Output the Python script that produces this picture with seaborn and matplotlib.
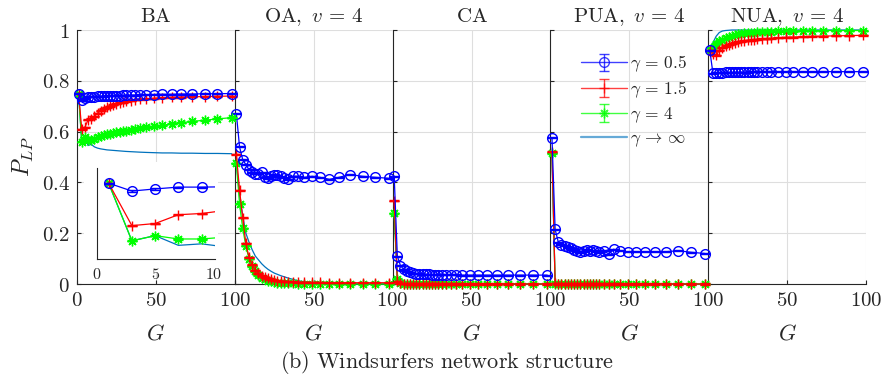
import numpy as np
import pandas as pd
import matplotlib
matplotlib.use('Agg')
import matplotlib.pyplot as plt
import seaborn as sns
from matplotlib.patches import Rectangle

# ---------------- data ----------------
G = [1, 3, 5, 7, 9, 11, 13, 15, 17, 19, 21, 23, 25, 27, 29, 31, 34, 37, 40, 44,
     49, 54, 60, 66, 73, 81, 89, 98]

titles = [r'$\mathrm{BA}$', r'$\mathrm{OA},\ v\,=\,4$', r'$\mathrm{CA}$',
          r'$\mathrm{PUA},\ v\,=\,4$', r'$\mathrm{NUA},\ v\,=\,4$']
legend_labels = [r'$\gamma\,=\,0.5$', r'$\gamma\,=\,1.5$', r'$\gamma\,=\,4$', r'$\gamma\,\rightarrow\,\infty$']
yticklabels = ['0', '0.2', '0.4', '0.6', '0.8', '1']
xticklabels = ['0', '50', '100']
inset_xticklabels = ['0', '5', '10']
caption = r'$\mathrm{(b)\ Windsurfers\ network\ structure}$'

ba_g05 = [0.750, 0.724, 0.731, 0.737, 0.737, 0.738, 0.739, 0.740, 0.740, 0.741, 0.741, 0.742, 0.742, 0.742,
          0.743, 0.743, 0.744, 0.744, 0.745, 0.745, 0.746, 0.747, 0.747, 0.748, 0.748, 0.749, 0.749, 0.750]
ba_g15 = [0.750, 0.610, 0.617, 0.646, 0.650, 0.660, 0.672, 0.683, 0.690, 0.695, 0.700, 0.705, 0.710, 0.713,
          0.716, 0.719, 0.722, 0.725, 0.727, 0.729, 0.731, 0.733, 0.735, 0.736, 0.737, 0.738, 0.739, 0.740]
ba_g4 = [0.750, 0.560, 0.577, 0.566, 0.566, 0.572, 0.578, 0.583, 0.586, 0.589, 0.592, 0.595, 0.598, 0.600,
         0.602, 0.604, 0.607, 0.610, 0.613, 0.617, 0.621, 0.625, 0.630, 0.635, 0.640, 0.645, 0.650, 0.655]
ba_inf = [0.750, 0.560, 0.577, 0.545, 0.550, 0.540, 0.535, 0.532, 0.530, 0.528, 0.527, 0.526, 0.525, 0.524,
          0.523, 0.522, 0.521, 0.520, 0.519, 0.518, 0.517, 0.516, 0.516, 0.515, 0.515, 0.514, 0.514, 0.513]

oa_g05 = [0.670, 0.540, 0.490, 0.470, 0.450, 0.440, 0.435, 0.435, 0.439, 0.420, 0.416, 0.425, 0.431, 0.428,
          0.424, 0.418, 0.412, 0.424, 0.424, 0.420, 0.424, 0.420, 0.412, 0.420, 0.431, 0.424, 0.420, 0.416]
oa_g15 = [0.510, 0.370, 0.260, 0.160, 0.105, 0.075, 0.055, 0.042, 0.033, 0.027, 0.022, 0.018, 0.015, 0.013,
          0.011, 0.010, 0.009, 0.008, 0.007, 0.007, 0.006, 0.006, 0.005, 0.005, 0.005, 0.005, 0.005, 0.005]
oa_g4 = [0.475, 0.315, 0.220, 0.150, 0.100, 0.070, 0.050, 0.035, 0.025, 0.018, 0.013, 0.010, 0.007, 0.005,
         0.004, 0.003, 0.002, 0.002, 0.001, 0.001, 0.001, 0.001, 0.001, 0.000, 0.000, 0.000, 0.000, 0.000]
oa_inf = [0.475, 0.350, 0.270, 0.200, 0.165, 0.135, 0.110, 0.095, 0.080, 0.068, 0.058, 0.050, 0.043, 0.038,
          0.033, 0.029, 0.023, 0.018, 0.013, 0.009, 0.006, 0.004, 0.003, 0.002, 0.001, 0.001, 0.001, 0.001]

ca_g05 = [0.425, 0.110, 0.072, 0.058, 0.050, 0.046, 0.043, 0.041, 0.040, 0.039, 0.038, 0.038, 0.037, 0.037,
          0.037, 0.036, 0.036, 0.036, 0.036, 0.035, 0.035, 0.035, 0.035, 0.035, 0.035, 0.035, 0.035, 0.035]
ca_g15 = [0.327, 0.010, 0.003, 0.001, 0.001, 0.000, 0.000, 0.000, 0.000, 0.000, 0.000, 0.000, 0.000, 0.000,
          0.000, 0.000, 0.000, 0.000, 0.000, 0.000, 0.000, 0.000, 0.000, 0.000, 0.000, 0.000, 0.000, 0.000]
ca_g4 = [0.278, 0.020, 0.004, 0.001, 0.000, 0.000, 0.000, 0.000, 0.000, 0.000, 0.000, 0.000, 0.000, 0.000,
         0.000, 0.000, 0.000, 0.000, 0.000, 0.000, 0.000, 0.000, 0.000, 0.000, 0.000, 0.000, 0.000, 0.000]
ca_inf = [0.278, 0.030, 0.010, 0.005, 0.003, 0.002, 0.001, 0.001, 0.000, 0.000, 0.000, 0.000, 0.000, 0.000,
          0.000, 0.000, 0.000, 0.000, 0.000, 0.000, 0.000, 0.000, 0.000, 0.000, 0.000, 0.000, 0.000, 0.000]

pua_g05 = [0.575, 0.215, 0.165, 0.155, 0.150, 0.145, 0.140, 0.135, 0.128, 0.125, 0.128, 0.135, 0.130, 0.132,
           0.128, 0.125, 0.130, 0.118, 0.137, 0.130, 0.127, 0.127, 0.127, 0.127, 0.127, 0.131, 0.125, 0.120]
pua_g15 = [0.520, 0.002, 0.000, 0.000, 0.000, 0.000, 0.000, 0.000, 0.000, 0.000, 0.000, 0.000, 0.000, 0.000,
           0.000, 0.000, 0.000, 0.000, 0.000, 0.000, 0.000, 0.000, 0.000, 0.000, 0.000, 0.000, 0.000, 0.000]
pua_g4 = [0.515, 0.000, 0.000, 0.000, 0.000, 0.000, 0.000, 0.000, 0.000, 0.000, 0.000, 0.000, 0.000, 0.000,
          0.000, 0.000, 0.000, 0.000, 0.000, 0.000, 0.000, 0.000, 0.000, 0.000, 0.000, 0.000, 0.000, 0.000]
pua_inf = [0.515, 0.000, 0.000, 0.000, 0.000, 0.000, 0.000, 0.000, 0.000, 0.000, 0.000, 0.000, 0.000, 0.000,
           0.000, 0.000, 0.000, 0.000, 0.000, 0.000, 0.000, 0.000, 0.000, 0.000, 0.000, 0.000, 0.000, 0.000]

nua_g05 = [0.920, 0.830, 0.831, 0.832, 0.832, 0.833, 0.833, 0.833, 0.834, 0.834, 0.834, 0.834, 0.834, 0.835,
           0.835, 0.835, 0.835, 0.835, 0.835, 0.835, 0.836, 0.836, 0.836, 0.836, 0.836, 0.836, 0.836, 0.836]
nua_g15 = [0.920, 0.905, 0.900, 0.920, 0.930, 0.937, 0.942, 0.946, 0.950, 0.953, 0.955, 0.957, 0.959, 0.960,
           0.962, 0.963, 0.965, 0.966, 0.967, 0.969, 0.971, 0.972, 0.974, 0.975, 0.976, 0.977, 0.978, 0.979]
nua_g4 = [0.920, 0.930, 0.945, 0.955, 0.962, 0.968, 0.973, 0.977, 0.980, 0.983, 0.985, 0.987, 0.988, 0.989,
          0.990, 0.991, 0.992, 0.993, 0.994, 0.995, 0.996, 0.996, 0.997, 0.997, 0.998, 0.998, 0.998, 0.998]
nua_inf = [0.920, 0.950, 0.975, 0.990, 0.996, 0.998, 0.999, 1.000, 1.000, 1.000, 1.000, 1.000, 1.000, 1.000,
           1.000, 1.000, 1.000, 1.000, 1.000, 1.000, 1.000, 1.000, 1.000, 1.000, 1.000, 1.000, 1.000, 1.000]

panels = [
    (ba_g05, ba_g15, ba_g4, ba_inf),
    (oa_g05, oa_g15, oa_g4, oa_inf),
    (ca_g05, ca_g15, ca_g4, ca_inf),
    (pua_g05, pua_g15, pua_g4, pua_inf),
    (nua_g05, nua_g15, nua_g4, nua_inf),
]

# ---------------- style ----------------
sns.set_style('white')
plt.rcParams['mathtext.fontset'] = 'cm'
plt.rcParams['font.family'] = ['DejaVu Serif']
plt.rcParams['axes.unicode_minus'] = False

C_BLUE, C_RED, C_GREEN, C_INF = '#0000FF', '#FF0000', '#00FF00', '#0072BD'
ASTER = (8, 2, 0)
SPINE = '#262626'
GRID = '#dedede'

W, H = 889, 381
fig = plt.figure(figsize=(W / 100, H / 100), dpi=100)


def fx(px):
    return px / W


def fy(py):
    return 1 - py / H


left0, right_end = 77, 866
pw = (right_end - left0) / 5
top_px, bot_px = 30, 284


def math(s):
    return '$' + s + '$'


def draw_series(ax, vals, small=False):
    g05, g15, g4, ginf = vals
    df = pd.DataFrame({'G': G, 'g05': g05, 'g15': g15, 'g4': g4, 'ginf': ginf})
    sns.lineplot(data=df, x='G', y='ginf', ax=ax, color=C_INF, linewidth=0.9,
                 legend=False, clip_on=small, zorder=3)
    specs = [('g4', C_GREEN, ASTER), ('g15', C_RED, '+'), ('g05', C_BLUE, 'o')]
    for col, c, mk in specs:
        sns.lineplot(data=df, x='G', y=col, ax=ax, color=c, linewidth=0.9,
                     marker=mk, markersize=7.0, markerfacecolor='none',
                     markeredgecolor=c, markeredgewidth=1.0, legend=False,
                     clip_on=small, zorder=4)
        ax.errorbar(df['G'], df[col], yerr=0.002, fmt='none', ecolor=c,
                    elinewidth=1.0, capsize=3.4, capthick=1.0,
                    clip_on=small, zorder=4)


axes = []
for k in range(5):
    ax = fig.add_axes([fx(left0 + k * pw), fy(bot_px), fx(pw), (bot_px - top_px) / H])
    axes.append(ax)
    draw_series(ax, panels[k])
    ax.set_xlim(0, 100)
    ax.set_ylim(0, 1)
    ax.set_axisbelow(True)
    ax.grid(True, color=GRID, linewidth=0.8)
    for s in ['top', 'right']:
        ax.spines[s].set_visible(False)
    for s in ['left', 'bottom']:
        ax.spines[s].set_color(SPINE)
        ax.spines[s].set_linewidth(0.8)
    ax.set_xticks([0, 50, 100])
    xl = [math(t) for t in xticklabels]
    if k > 0:
        xl[0] = ''
    ax.set_xticklabels(xl)
    ax.set_yticks([0, 0.2, 0.4, 0.6, 0.8, 1.0])
    if k == 0:
        ax.set_yticklabels([math(t) for t in yticklabels])
        ax.set_ylabel(r'$P_{LP}$', fontsize=17, labelpad=4)
    else:
        ax.set_yticklabels([])
        ax.set_ylabel('')
    ax.tick_params(direction='in', length=3, width=0.8, color=SPINE,
                   labelsize=15, pad=5, left=True, bottom=True)
    ax.set_xlabel(r'$G$', fontsize=16, labelpad=9)
    ax.set_title(titles[k], fontsize=15, pad=6)

# data of earlier panels should sit on top of later panels' backgrounds
for k, ax in enumerate(axes):
    ax.set_zorder(10 - k)
    ax.patch.set_alpha(0)

# legend in PUA panel (errorbar-style handles)
axl = axes[3]
hs = []
for c, mk in [(C_BLUE, 'o'), (C_RED, '+'), (C_GREEN, ASTER)]:
    h = axl.errorbar([np.nan], [np.nan], yerr=[0.05], color=c, marker=mk,
                     markersize=7, markerfacecolor='none', markeredgecolor=c,
                     markeredgewidth=1.0, linewidth=1.0, capsize=3.4, alpha=0.75)
    hs.append(h)
hinf, = axl.plot([np.nan], [np.nan], color=C_INF, linewidth=1.6, alpha=0.6)
hs.append(hinf)
leg = axl.legend(hs, legend_labels, loc='upper left', bbox_to_anchor=(0.12, 0.955),
                 frameon=False, fontsize=12.5, handlelength=2.6, handletextpad=0.2,
                 labelspacing=0.3, borderpad=0.2)

# inset in BA panel
fig.patches.append(Rectangle((fx(84), fy(272)), fx(218 - 84), (272 - 162) / H,
                             transform=fig.transFigure, facecolor='white',
                             edgecolor='none', zorder=20))
axi = fig.add_axes([fx(97), fy(259), fx(215 - 97), (259 - 168) / H])
axi.set_zorder(21)
axi.set_facecolor('white')
draw_series(axi, panels[0], small=True)
axi.set_xlim(0, 10.15)
axi.set_ylim(0.5, 0.8)
for s in ['top', 'right']:
    axi.spines[s].set_visible(False)
for s in ['left', 'bottom']:
    axi.spines[s].set_color(SPINE)
    axi.spines[s].set_linewidth(0.8)
axi.set_xticks([0, 5, 10])
axi.set_xticklabels([math(t) for t in inset_xticklabels])
axi.set_yticks([0.6, 0.8])
axi.set_yticklabels([])
axi.tick_params(direction='in', length=3, width=0.8, color=SPINE, labelsize=11.5, pad=5)
axi.set_xlabel('')
axi.set_ylabel('')

fig.text(fx(447), fy(362), caption, ha='center', va='center', fontsize=16)

fig.savefig('out.png', dpi=100)
